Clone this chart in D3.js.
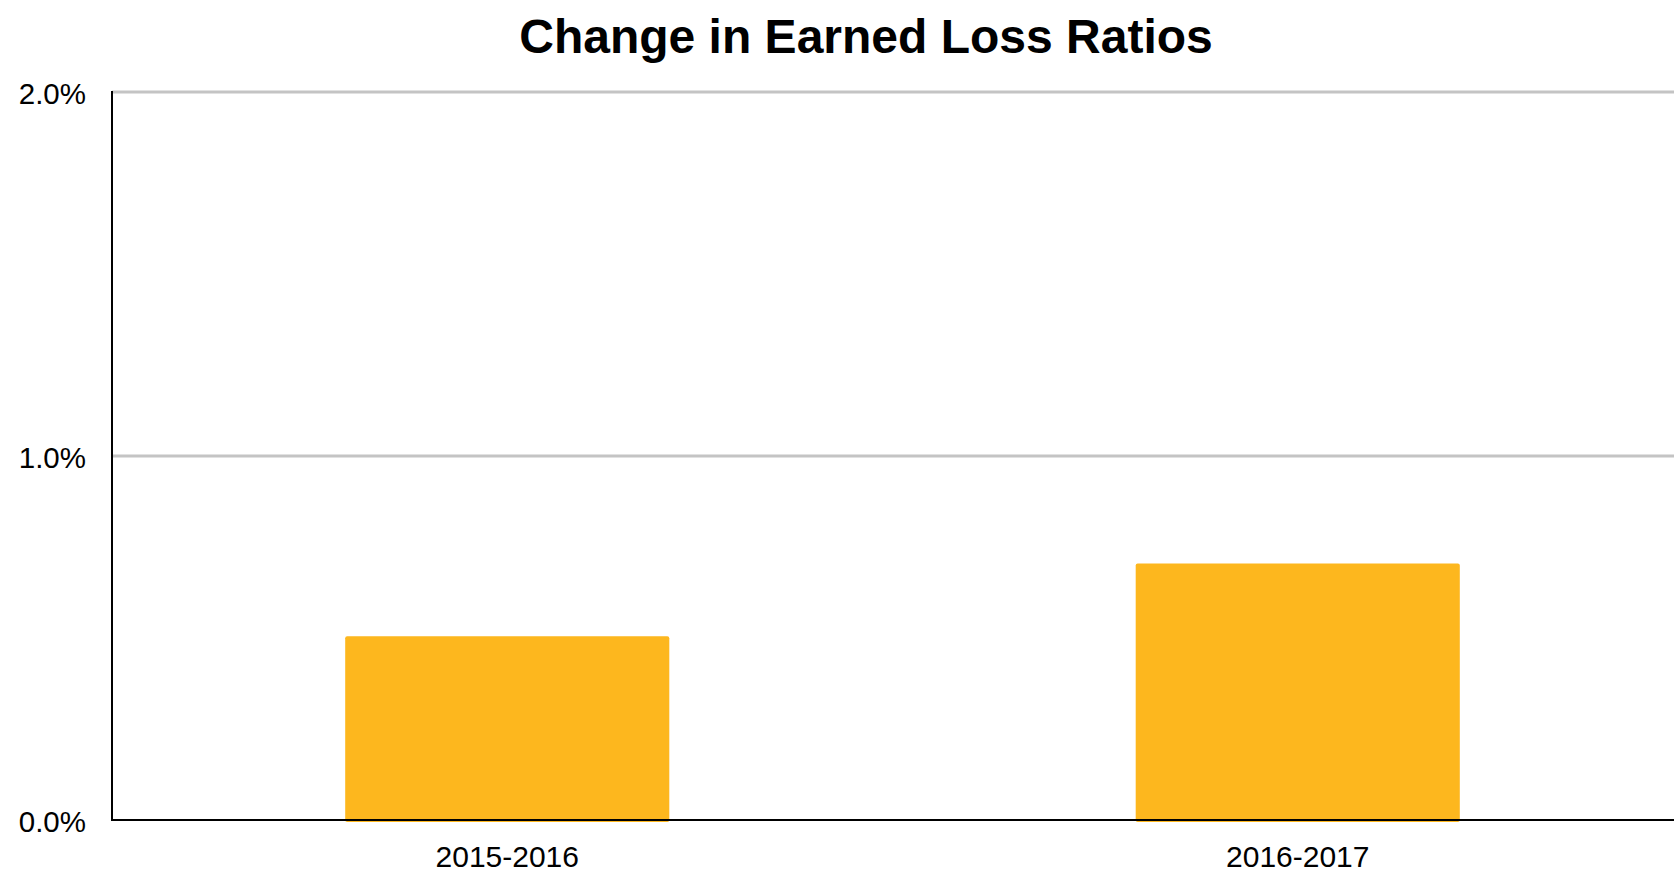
<!DOCTYPE html>
<html lang='en'>
	<head>
		<title>Change in Earned Loss Ratios</title>
		<script type='text/javascript' src='https://cdn.jsdelivr.net/npm/d3@7/dist/d3.min.js'></script>
		<style>
			body { margin: 0; background: #fff; }
			text { font-family: 'Liberation Sans', Arial, sans-serif; }
		</style>
	</head>
	<body>
		<script type='text/javascript'>
		{
			var width = 1674, height = 872;

			var periods = ['2015-2016', '2016-2017'];
			var lossRatioChange = [0.00505, 0.00705];
			var yTicks = [0, 0.01, 0.02];

			var svg = d3.select('body').append('svg').attr('width', width).attr('height', height);

			var plot_left = 112, plot_right = 1693, plot_top = 92, plot_bottom = 820;

			var x = d3.scaleBand().domain(periods).range([plot_left, plot_right]).paddingInner(0.59).paddingOuter(0.295);
			var y = d3.scaleLinear().domain([0, 0.02]).range([plot_bottom, plot_top]);

			// gridlines
			svg.append('g').selectAll('line').data(yTicks.slice(1)).enter().append('line')
				.attr('x1', plot_left).attr('x2', width)
				.attr('y1', d => y(d)).attr('y2', d => y(d))
				.attr('stroke', '#c4c4c4').attr('stroke-width', 3);

			// bars
			svg.append('g').selectAll('rect').data(lossRatioChange).enter().append('rect')
				.attr('x', (d, i) => x(periods[i]))
				.attr('width', x.bandwidth())
				.attr('y', d => y(d))
				.attr('height', d => plot_bottom - y(d) + 2)
				.attr('rx', 2)
				.attr('fill', '#fdb71e');

			// axes
			svg.append('line').attr('x1', plot_left).attr('x2', width).attr('y1', plot_bottom).attr('y2', plot_bottom)
				.attr('stroke', '#000').attr('stroke-width', 2);
			svg.append('line').attr('x1', plot_left).attr('x2', plot_left).attr('y1', plot_top - 1).attr('y2', plot_bottom + 1)
				.attr('stroke', '#000').attr('stroke-width', 2);

			var fmt = d3.format('.1%');
			svg.append('g').selectAll('text').data(yTicks).enter().append('text')
				.attr('x', 86).attr('y', d => y(d) + 12)
				.attr('text-anchor', 'end')
				.attr('font-size', 29.5)
				.attr('fill', '#000')
				.text(d => fmt(d));

			svg.append('g').selectAll('text').data(periods).enter().append('text')
				.attr('x', d => x(d) + x.bandwidth() / 2).attr('y', 867)
				.attr('text-anchor', 'middle')
				.attr('font-size', 30)
				.attr('fill', '#000')
				.text(d => d);

			svg.append('text')
				.attr('x', 866).attr('y', 53)
				.attr('text-anchor', 'middle')
				.attr('font-size', 48)
				.attr('font-weight', 'bold')
				.attr('fill', '#000')
				.text('Change in Earned Loss Ratios');
		}
		</script>
	</body>
</html>
